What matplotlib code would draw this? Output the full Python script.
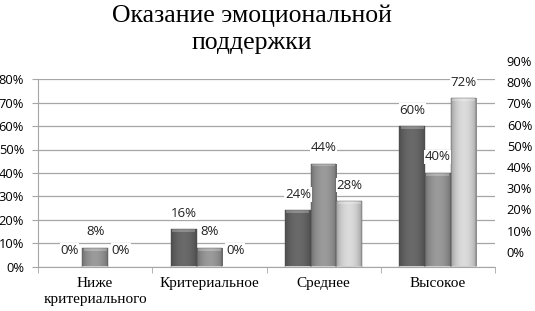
import numpy as np
import matplotlib
matplotlib.use("Agg")
import matplotlib.pyplot as plt
from matplotlib.ticker import FixedLocator, PercentFormatter

# data
categories = ["Ниже\nкритериального", "Критериальное", "Среднее", "Высокое"]
series_1 = [0, 16, 24, 60]
series_2 = [8, 8, 44, 40]
series_3 = [0, 0, 28, 72]
left_ticks = list(range(0, 81, 10))
right_ticks = list(range(0, 91, 10))

SERIES = [
    (series_1, "#5e5e5e"),
    (series_2, "#8a8a8a"),
    (series_3, "#c4c4c4"),
]

W, H = 535, 311
fig = plt.figure(figsize=(W / 100, H / 100), dpi=100)
ax = fig.add_axes([38 / W, (H - 266.5) / H, 457 / W, 187.2 / H])

x = np.arange(len(categories))
bw = 0.225
grad = np.linspace(0, 1, 64)
profile = 0.76 + 0.36 * np.sin(np.pi * grad) ** 0.6

for i, (vals, color) in enumerate(SERIES):
    bars = ax.bar(x + (i - 1) * bw, vals, width=bw, color=color,
                  edgecolor="#555555", linewidth=0.3, zorder=3)
    base = np.array(matplotlib.colors.to_rgb(color))
    for b, v in zip(bars, vals):
        if v <= 0:
            b.set_visible(False)   # Excel draws nothing for 0 bars
            continue
        x0, y0 = b.get_x(), b.get_y()
        img = np.clip(base[None, None, :] * profile[None, :, None], 0, 1)
        im = ax.imshow(img, extent=[x0, x0 + bw, y0, y0 + v], aspect="auto",
                       zorder=3.5, interpolation="bilinear")
        im.set_clip_path(b)
        # bevel highlight at the top
        hl = min(1.2, v * 0.5)
        ax.bar(b.get_x() + bw / 2, hl, bottom=v - hl, width=bw * 0.9,
               color="white", alpha=0.25, linewidth=0, zorder=4)
        b.set_facecolor("none")
        b.set_zorder(5)
    for xi, v in zip(x + (i - 1) * bw, vals):
        ax.annotate(f"{v}%", (xi, v), xytext=(0, 11.5), textcoords="offset points",
                    ha="center", va="center", fontsize=9.5, family="Open Sans",
                    color="#222222", zorder=6,
                    bbox=dict(boxstyle="square,pad=0.05", fc="white", ec="none"))

ax.set_xlim(-0.5, len(categories) - 0.5)
ax.set_ylim(0, 80)
ax.yaxis.set_major_locator(FixedLocator(left_ticks))
ax.yaxis.set_major_formatter(PercentFormatter(decimals=0))
ax.grid(axis="y", color="#a6a6a6", linewidth=0.9, zorder=0)
ax.set_axisbelow(True)

ax.set_xticks(x)
ax.set_xticklabels(categories, family="Liberation Serif", fontsize=11, linespacing=1.3)
ax.set_xticks(np.arange(len(categories) + 1) - 0.5, minor=True)
ax.tick_params(axis="x", which="major", length=0, pad=7.5)
ax.tick_params(axis="x", which="minor", length=4, color="#a6a6a6", direction="out")
ax.tick_params(axis="y", length=4, color="#a6a6a6", pad=6)
for lbl in ax.get_yticklabels():
    lbl.set_family("Open Sans")
    lbl.set_fontsize(9.3)

for s in ["top", "right"]:
    ax.spines[s].set_visible(False)
for s in ["left", "bottom"]:
    ax.spines[s].set_color("#a6a6a6")

# right-hand axis: its own scale, 0%..90%
ax2 = fig.add_axes([38 / W, (H - 251.7) / H, 457 / W, 190.7 / H], frameon=False)
ax2.set_ylim(0, 90)
ax2.set_xticks([])
ax2.yaxis.tick_right()
ax2.yaxis.set_major_locator(FixedLocator(right_ticks))
ax2.yaxis.set_major_formatter(PercentFormatter(decimals=0))
ax2.tick_params(axis="y", length=0, pad=8.5)
for lbl in ax2.get_yticklabels():
    lbl.set_family("Open Sans")
    lbl.set_fontsize(9.3)
ax2.patch.set_visible(False)

fig.text(252 / W, 1 - 29 / H, "Оказание эмоциональной\nподдержки",
         ha="center", va="center", family="Liberation Serif", fontsize=18.5,
         linespacing=1.3)

fig.savefig("out.png", dpi=100)
